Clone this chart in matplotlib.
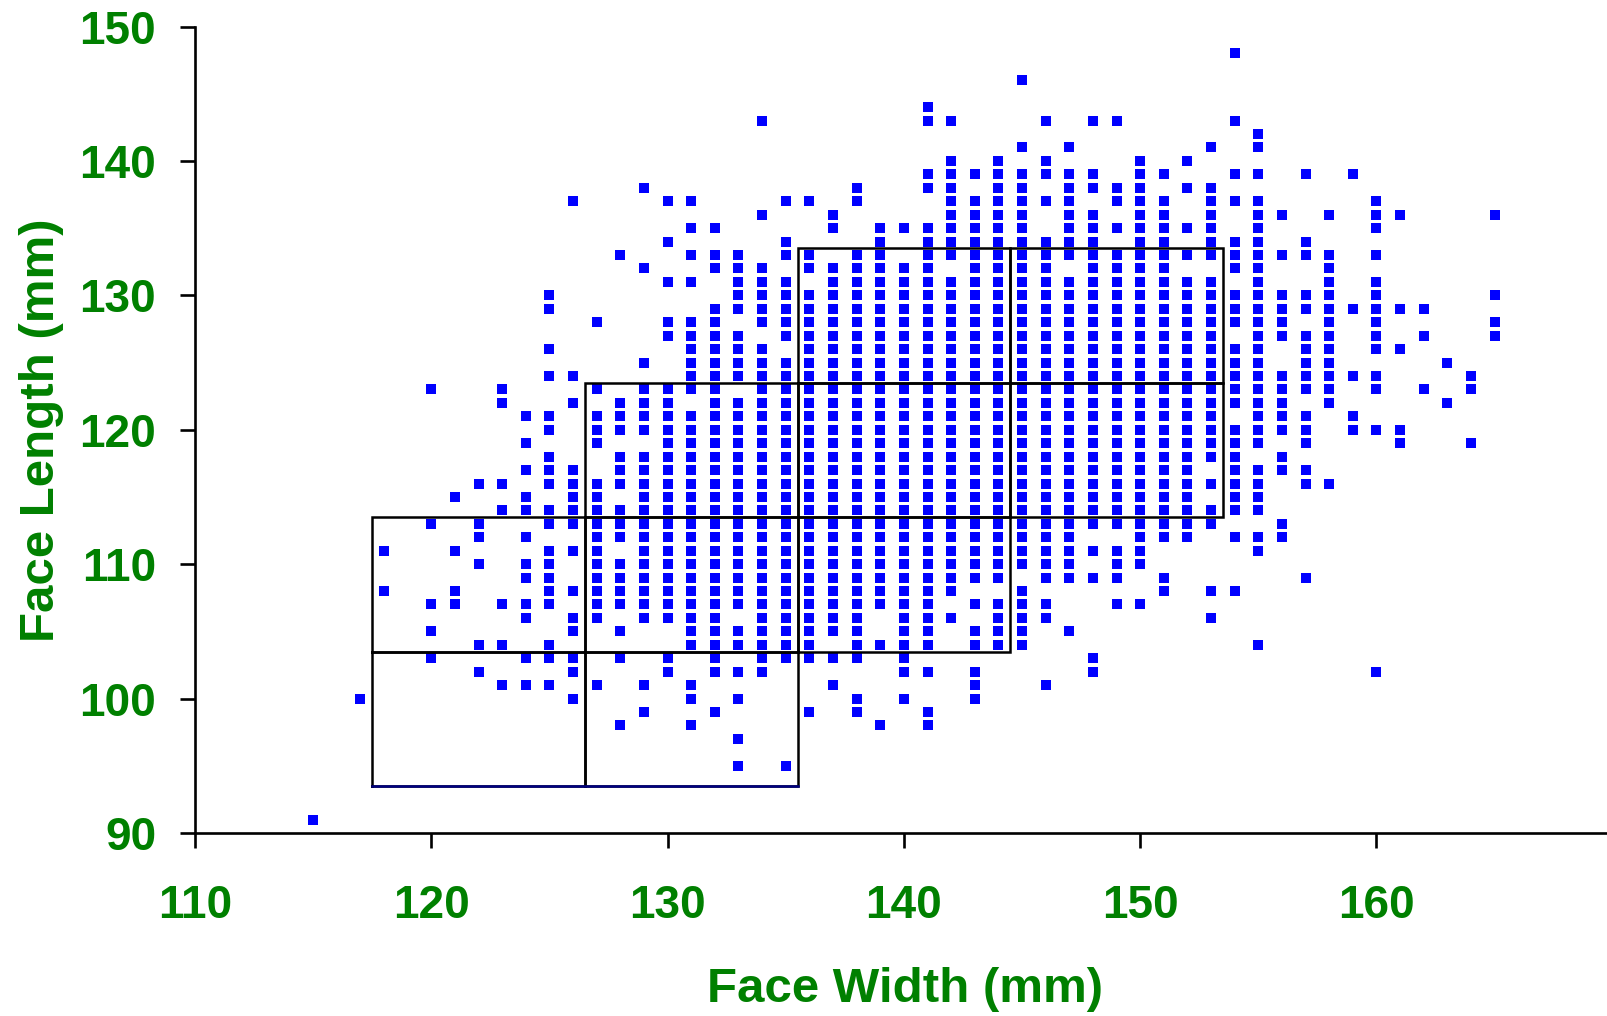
import matplotlib
matplotlib.use('Agg')
import matplotlib.pyplot as plt

# face length readings (mm), one list per face width column
len_115 = [91]
len_117 = [100]
len_118 = [111, 108]
len_120 = [123, 113, 107, 105, 103]
len_121 = [115, 111, 108, 107]
len_122 = [116, 113, 112, 110, 104, 102]
len_123 = [123, 122, 116, 114, 107, 104, 101]
len_124 = [121, 119, 117, 115, 114, 112, 110, 109, 107, 106, 103, 101]
len_125 = [130, 129, 126, 124, 121, 120, 118, 117, 116, 114, 113, 111, 110, 109, 108, 107, 104, 103, 101]
len_126 = [137, 124, 122, 117, 116, 115, 114, 113, 111, 108, 106, 105, 103, 102, 100]
len_127 = [128, 123, 121, 120, 119, 116, 115, 114, 113, 112, 111, 110, 109, 108, 107, 106, 101]
len_128 = [133, 122, 121, 120, 118, 117, 116, 114, 113, 112, 110, 109, 108, 107, 105, 103, 98]
len_129 = [138, 132, 125, 123, 122, 121, 120, 118, 117, 116, 115, 114, 113, 112, 111, 110, 109, 108, 107, 106, 101, 99]
len_130 = [137, 134, 131, 128, 127, 123, 122, 121, 120, 119, 118, 117, 116, 115, 114, 113, 112, 111, 110, 109, 108, 107, 106, 103, 102]
len_131 = [137, 135, 133, 131, 128, 127, 126, 125, 124, 123, 121, 120, 119, 118, 117, 116, 115, 114, 113, 112, 111, 110, 109, 108, 107, 106, 105, 104, 101, 100, 98]
len_132 = [135, 133, 132, 129, 128, 127, 126, 125, 124, 123, 122, 121, 120, 119, 118, 117, 116, 115, 114, 113, 112, 111, 110, 109, 108, 107, 106, 105, 104, 103, 102, 99]
len_133 = [133, 132, 131, 130, 129, 127, 126, 125, 124, 122, 121, 120, 119, 118, 117, 116, 115, 114, 113, 112, 111, 110, 109, 108, 107, 105, 104, 102, 100, 97, 95]
len_134 = [143, 136, 132, 131, 130, 129, 128, 126, 125, 124, 123, 122, 121, 120, 119, 118, 117, 116, 115, 114, 113, 112, 111, 110, 109, 108, 107, 106, 105, 104, 103, 102]
len_135 = [137, 134, 133, 131, 130, 129, 128, 127, 125, 124, 123, 122, 121, 120, 119, 118, 117, 116, 115, 114, 113, 112, 111, 110, 109, 108, 107, 106, 105, 104, 103, 95]
len_136 = [137, 133, 132, 130, 129, 128, 127, 126, 125, 124, 123, 122, 121, 120, 119, 118, 117, 116, 115, 114, 113, 112, 111, 110, 109, 108, 107, 106, 105, 104, 103, 99]
len_137 = [136, 135, 132, 131, 130, 129, 128, 127, 126, 125, 124, 123, 122, 121, 120, 119, 118, 117, 116, 115, 114, 113, 112, 111, 110, 109, 108, 107, 106, 105, 103, 101]
len_138 = [138, 137, 133, 132, 131, 130, 129, 128, 127, 126, 125, 124, 123, 122, 121, 120, 119, 118, 117, 116, 115, 114, 113, 112, 111, 110, 109, 108, 107, 106, 105, 104, 103, 100, 99]
len_139 = [135, 134, 133, 132, 131, 130, 129, 128, 127, 126, 125, 124, 123, 122, 121, 120, 119, 118, 117, 116, 115, 114, 113, 112, 111, 110, 109, 108, 107, 104, 98]
len_140 = [135, 132, 131, 130, 129, 128, 127, 126, 125, 124, 123, 122, 121, 120, 119, 118, 117, 116, 115, 114, 113, 112, 111, 110, 109, 108, 107, 106, 105, 104, 103, 102, 100]
len_141 = [144, 143, 139, 138, 135, 134, 133, 132, 131, 130, 129, 128, 127, 126, 125, 124, 123, 122, 121, 120, 119, 118, 117, 116, 115, 114, 113, 112, 111, 110, 109, 108, 107, 106, 105, 104, 102, 99, 98]
len_142 = [143, 140, 139, 138, 137, 136, 135, 134, 133, 131, 130, 129, 128, 127, 126, 125, 124, 123, 122, 121, 120, 119, 118, 117, 116, 115, 114, 113, 112, 111, 110, 109, 108, 106]
len_143 = [139, 137, 136, 135, 134, 133, 132, 131, 130, 129, 128, 127, 126, 125, 124, 123, 122, 121, 120, 119, 118, 117, 116, 115, 114, 113, 112, 111, 110, 109, 107, 105, 104, 102, 101, 100]
len_144 = [140, 139, 138, 137, 136, 135, 134, 133, 132, 131, 130, 129, 128, 127, 126, 125, 124, 123, 122, 121, 120, 119, 118, 117, 116, 115, 114, 113, 112, 111, 110, 109, 107, 106, 105, 104]
len_145 = [146, 141, 139, 138, 137, 136, 135, 134, 133, 132, 131, 130, 129, 128, 127, 126, 125, 124, 123, 122, 121, 120, 119, 118, 117, 116, 115, 114, 113, 112, 111, 110, 108, 107, 106, 105, 104]
len_146 = [143, 140, 139, 137, 134, 133, 132, 131, 130, 129, 128, 127, 126, 125, 124, 123, 122, 121, 120, 119, 118, 117, 116, 115, 114, 113, 112, 111, 110, 109, 107, 106, 101]
len_147 = [141, 139, 138, 137, 136, 135, 134, 133, 131, 130, 129, 128, 127, 126, 125, 124, 123, 122, 121, 120, 119, 118, 117, 116, 115, 114, 113, 112, 111, 110, 109, 105]
len_148 = [143, 139, 138, 136, 135, 134, 133, 132, 131, 130, 129, 128, 127, 126, 125, 124, 123, 122, 121, 120, 119, 118, 117, 116, 115, 114, 113, 111, 109, 103, 102]
len_149 = [143, 138, 137, 135, 133, 132, 131, 130, 129, 128, 127, 126, 125, 124, 123, 122, 121, 120, 119, 118, 117, 116, 115, 114, 113, 111, 110, 109, 107]
len_150 = [140, 139, 138, 137, 136, 135, 134, 133, 132, 131, 130, 129, 128, 127, 126, 125, 124, 123, 122, 121, 120, 119, 118, 117, 116, 115, 114, 113, 112, 111, 110, 107]
len_151 = [139, 137, 136, 135, 134, 133, 132, 131, 130, 129, 128, 127, 126, 125, 124, 123, 122, 121, 120, 119, 118, 117, 116, 115, 114, 113, 112, 109, 108]
len_152 = [140, 138, 135, 133, 131, 130, 129, 128, 127, 126, 125, 124, 123, 122, 121, 120, 119, 118, 117, 116, 115, 114, 113, 112]
len_153 = [141, 138, 137, 136, 135, 134, 133, 131, 130, 129, 128, 127, 126, 125, 124, 123, 122, 121, 120, 119, 118, 116, 114, 113, 108, 106]
len_154 = [148, 143, 139, 137, 134, 133, 132, 130, 129, 128, 126, 125, 124, 123, 122, 120, 119, 118, 117, 116, 115, 114, 112, 108]
len_155 = [142, 141, 139, 137, 136, 135, 134, 133, 132, 131, 130, 129, 128, 127, 126, 125, 124, 123, 122, 121, 120, 119, 117, 116, 115, 114, 112, 111, 104]
len_156 = [136, 133, 130, 129, 128, 127, 124, 123, 122, 121, 120, 118, 117, 113, 112]
len_157 = [139, 134, 133, 130, 129, 127, 126, 125, 124, 123, 121, 120, 119, 117, 116, 109]
len_158 = [136, 133, 132, 131, 130, 129, 128, 127, 126, 125, 124, 123, 122, 116]
len_159 = [139, 129, 124, 121, 120]
len_160 = [137, 136, 135, 133, 131, 130, 129, 128, 127, 126, 124, 123, 120, 102]
len_161 = [136, 129, 126, 120, 119]
len_162 = [129, 127, 123]
len_163 = [125, 122]
len_164 = [124, 123, 119]
len_165 = [136, 130, 128, 127]

widths = [115, 117, 118, 120, 121, 122, 123, 124, 125, 126, 127, 128, 129, 130, 131, 132,
          133, 134, 135, 136, 137, 138, 139, 140, 141, 142, 143, 144, 145, 146, 147, 148,
          149, 150, 151, 152, 153, 154, 155, 156, 157, 158, 159, 160, 161, 162, 163, 164, 165]
lengths = [len_115, len_117, len_118, len_120, len_121, len_122, len_123, len_124, len_125,
           len_126, len_127, len_128, len_129, len_130, len_131, len_132, len_133, len_134,
           len_135, len_136, len_137, len_138, len_139, len_140, len_141, len_142, len_143,
           len_144, len_145, len_146, len_147, len_148, len_149, len_150, len_151, len_152,
           len_153, len_154, len_155, len_156, len_157, len_158, len_159, len_160, len_161,
           len_162, len_163, len_164, len_165]

# lower left corners of the size boxes, each one is 9 wide and 10 long
box_width = 9
box_length = 10
box_x = [117.5, 126.5, 117.5, 126.5, 135.5, 126.5, 135.5, 144.5, 135.5, 144.5]
box_y = [93.5, 93.5, 103.5, 103.5, 103.5, 113.5, 113.5, 113.5, 123.5, 123.5]

xticks = [110, 120, 130, 140, 150, 160]
yticks = [90, 100, 110, 120, 130, 140, 150]

W, H = 1608, 1016
green = '#008000'
plt.rcParams['font.family'] = ['Liberation Sans', 'DejaVu Sans']

fig = plt.figure(figsize=(W / 100, H / 100), dpi=100)
ax = fig.add_axes([195 / W, (H - 833) / H, (W - 195) / W, (833 - 26.5) / H])

all_x = []
all_y = []
for w, col in zip(widths, lengths):
    all_x += [w] * len(col)
    all_y += col
ax.plot(all_x, all_y, ls='none', marker='s', ms=6.8, mew=0, color='#0000ff', zorder=2)

for x0, y0 in zip(box_x, box_y):
    ax.plot([x0, x0 + box_width, x0 + box_width, x0, x0],
            [y0, y0, y0 + box_length, y0 + box_length, y0],
            color='black', lw=1.8, solid_joinstyle='miter', zorder=3)
# bottom edge of the two lowest boxes shows dark blue
ax.plot([box_x[0], box_x[1] + box_width], [box_y[0], box_y[1]], color='#000080', lw=1.8, zorder=4)

ax.set_xlim(110, 110 + (W - 195) / 23.63)
ax.set_ylim(90, 150)
ax.set_xticks(xticks)
ax.set_yticks(yticks)
ax.spines['top'].set_visible(False)
ax.spines['right'].set_visible(False)
ax.spines['left'].set_linewidth(1.9)
ax.spines['bottom'].set_linewidth(1.9)
ax.tick_params(length=10.5, width=1.9, labelsize=33, labelcolor=green)
ax.tick_params(axis='x', pad=26.5)
ax.tick_params(axis='y', pad=17.5)
for lab in ax.get_xticklabels() + ax.get_yticklabels():
    lab.set_fontweight('bold')
for lab in ax.get_yticklabels():
    lab.set_verticalalignment('center_baseline')

fig.text(905 / W, 1 - 989 / H, 'Face Width (mm)', color=green, fontsize=35.5, fontweight='bold',
         ha='center', va='center')
fig.text(42 / W, 1 - 430 / H, 'Face Length (mm)', color=green, fontsize=35.5, fontweight='bold',
         ha='center', va='center', rotation=90)

fig.savefig('out.png', dpi=100)
